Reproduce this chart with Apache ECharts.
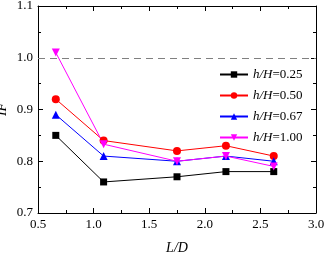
<!DOCTYPE html>
<html>
<head>
<meta charset="utf-8">
<script src="https://cdn.jsdelivr.net/npm/echarts@6/dist/echarts.min.js"></script>
<style>
  html, body { margin: 0; padding: 0; background: #fff; }
  #chart { width: 327px; height: 253px; }
</style>
</head>
<body>
<div id="chart"></div>
<script>
// L/D 取值
const ldValues = [0.66, 1.09, 1.75, 2.19, 2.62];
// 各 h/H 下的 IF
const if025 = [0.85, 0.76, 0.77, 0.78, 0.78];
const if050 = [0.92, 0.84, 0.82, 0.83, 0.81];
const if067 = [0.89, 0.81, 0.80, 0.81, 0.80];
const if100 = [1.01, 0.833, 0.80, 0.81, 0.79];
const seriesNames = ['0.25', '0.50', '0.67', '1.00'];
const refLine = 1.0;

const font = 'Liberation Serif';
const chart = echarts.init(document.getElementById('chart'));

const pairs = (ys) => ldValues.map((x, i) => [x, ys[i]]);

const axisCommon = {
  axisLine: { show: true, onZero: false, lineStyle: { color: '#000', width: 1 } },
  axisTick: { show: true, inside: true, length: 5, lineStyle: { color: '#000' } },
  minorTick: { show: true, splitNumber: 2, length: 3, lineStyle: { color: '#000' } },
  splitLine: { show: false },
};

const mkSeries = (name, data, color, symbol, rotate) => ({
  name: name,
  type: 'line',
  data: pairs(data),
  symbol: symbol,
  symbolSize: symbol === 'rect' ? 7 : 8,
  symbolRotate: rotate || 0,
  itemStyle: { color: color },
  lineStyle: { color: color, width: 1 },
});

const option = {
  animation: false,
  grid: { left: 38, right: 11, top: 6, bottom: 40, containLabel: false, outerBoundsMode: 'none' },
  xAxis: [
    Object.assign({
      type: 'value', min: 0.5, max: 3.0, interval: 0.5,
      name: 'L/D', nameLocation: 'middle', nameGap: 28, nameMoveOverlap: false,
      nameTextStyle: { fontFamily: font, fontStyle: 'italic', fontSize: 14, color: '#000' },
      axisLabel: { fontFamily: font, fontSize: 13, color: '#000', margin: 5, formatter: v => v.toFixed(1) },
    }, axisCommon),
    Object.assign({
      type: 'value', min: 0.5, max: 3.0, interval: 0.5, position: 'top',
      axisLabel: { show: false },
    }, axisCommon),
  ],
  yAxis: [
    Object.assign({
      type: 'value', min: 0.7, max: 1.1, interval: 0.1,
      name: 'IF', nameLocation: 'middle', nameGap: 29, nameMoveOverlap: false,
      nameTextStyle: { fontFamily: font, fontStyle: 'italic', fontSize: 14, color: '#000' },
      axisLabel: { fontFamily: font, fontSize: 13, color: '#000', margin: 5, formatter: v => v.toFixed(1) },
    }, axisCommon),
    Object.assign({
      type: 'value', min: 0.7, max: 1.1, interval: 0.1, position: 'right',
      axisLabel: { show: false },
    }, axisCommon),
  ],
  legend: {
    orient: 'vertical',
    left: 214, top: 63,
    itemWidth: 28, itemHeight: 8, itemGap: 8,
    formatter: n => '{i|h/H}{n|=' + n + '}',
    textStyle: {
      rich: {
        i: { fontFamily: font, fontStyle: 'italic', fontSize: 13, color: '#000' },
        n: { fontFamily: font, fontSize: 13, color: '#000' },
      },
    },
    data: seriesNames,
  },
  series: [
    Object.assign(mkSeries(seriesNames[0], if025, '#000000', 'rect'), {
      markLine: {
        silent: true, symbol: 'none', label: { show: false },
        lineStyle: { color: '#808080', type: [7, 5], width: 1.2 },
        data: [{ yAxis: refLine }],
      },
    }),
    mkSeries(seriesNames[1], if050, '#ff0000', 'circle'),
    mkSeries(seriesNames[2], if067, '#0000ff', 'triangle'),
    mkSeries(seriesNames[3], if100, '#ff00ff', 'triangle', 180),
  ],
};

chart.setOption(option);
</script>
</body>
</html>
